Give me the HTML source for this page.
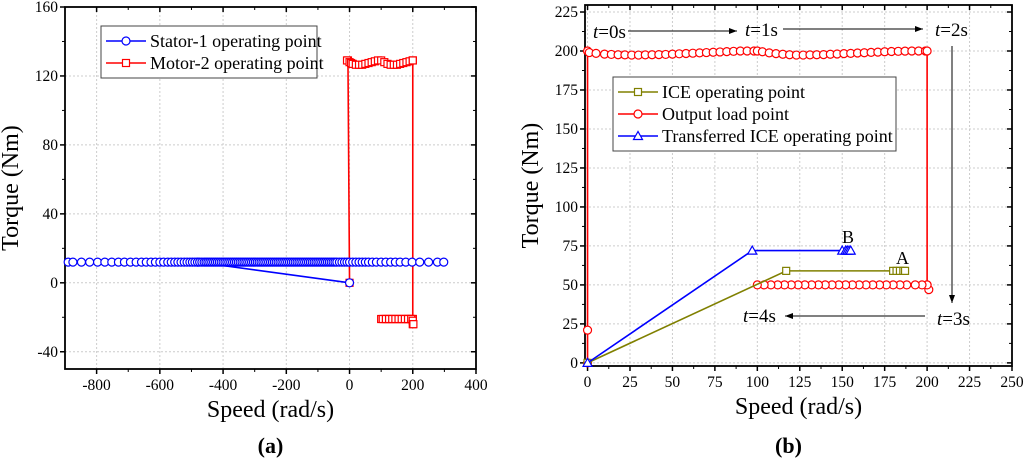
<!DOCTYPE html>
<html><head><meta charset="utf-8"><style>
body{margin:0;background:#fff;}
svg{display:block;font-family:"Liberation Serif",serif;}
</style></head><body>
<svg id="c" width="1024" height="460" viewBox="0 0 1024 460"></svg>
<script>
// ---- Chart (a) data ----
const statorX=[0,-480,-890,-875,-848,-822,-797,-774,-752,-731,-712,-693,-675,-658,-643,-628,-614,-600,-588,-575,-564,-553,-543,-533,-523,-514,-505,-497,-489,-481,-474,-467,-460,-454,-448,-442,-436,-430,-424,-418,-412,-406,-400,-394,-388,-382,-376,-370,-364,-358,-352,-346,-340,-334,-328,-322,-316,-310,-304,-298,-292,-286,-280,-274,-268,-262,-256,-250,-244,-238,-232,-226,-220,-214,-208,-202,-196,-190,-184,-178,-172,-166,-160,-154,-148,-142,-136,-130,-124,-118,-112,-106,-100,-94,-88,-82,-76,-70,-64,-58,-52,-46,-40,-32,-24,-16,-8,0,10,20,30,40,50,60,72,85,100,115,130,145,160,178,198,222,250,278,298];
const statorY=statorX.map((v,i)=>i===0?0:12);
const motorX=[0,-5,-8,0,5,10,20,30,40,50,60,70,80,90,100,110,120,130,140,150,160,170,180,190,200,200,200,200,195,190,185,180,170,160,150,140,130,120,110,100,105,115,125,135,145,155,165,175,185,195,200,200,202];
const motorY=[0,129,129,128,127.5,127,126.5,126.5,126.5,127,127.5,128,128.5,129,129,128,127,126.5,126.5,126.5,127,127.5,128,128.5,129,129,-21,-21,-21,-21,-21,-21,-21,-21,-21,-21,-21,-21,-21,-21,-21,-21,-21,-21,-21,-21,-21,-21,-21,-21,-22,-24,-24];
const aXTicks=[-800,-600,-400,-200,0,200,400];
const aYTicks=[-40,0,40,80,120,160];
// ---- Chart (b) data ----
const iceX=[0,117,180,182,184,186,187];
const iceY=[0,59,59,59,59,59,59];
const loadX=[0,0,0,1,5,10,14,18,22,26,30,34,38,42,46,50,54,58,62,66,70,74,78,82,86,90,94,98,100,103,107,111,115,119,123,127,131,135,139,143,147,151,155,159,163,167,171,175,179,183,187,191,195,199,200,200,201,200,197,193,188,184,180,176,172,168,164,160,156,152,148,144,140,136,132,128,124,120,116,112,108,104,100];
const loadY=[0,21,200,199,198.5,198,197.8,197.6,197.5,197.4,197.4,197.5,197.6,197.7,197.8,198,198.2,198.4,198.6,198.8,199,199.2,199.4,199.6,199.8,200,200,200,200,199.5,198.8,198.3,197.9,197.6,197.4,197.4,197.5,197.6,197.7,197.9,198.1,198.3,198.5,198.7,198.9,199.1,199.3,199.5,199.7,199.8,199.9,200,200,200,200,50,47,50,50,50,50,50,50,50,50,50,50,50,50,50,50,50,50,50,50,50,50,50,50,50,50,50,50];
const trX=[0,97,150,152,153,154,155];
const trY=[0,72,72,72,72,72,72];
const bXTicks=[0,25,50,75,100,125,150,175,200,225,250];
const bYTicks=[0,25,50,75,100,125,150,175,200,225];

const NS="http://www.w3.org/2000/svg";
const svg=document.getElementById('c');
function mk(tag,attrs,parent,name,inter){const e=document.createElementNS(NS,tag);for(const k in attrs)e.setAttribute(k,attrs[k]);


(parent||svg).appendChild(e);return e;}

function chart(o){
 const g=mk('g',{},svg,o.name,false);
 const sx=v=>o.x0+(v-o.xmin)/(o.xmax-o.xmin)*(o.x1-o.x0);
 const sy=v=>o.y1-(v-o.ymin)/(o.ymax-o.ymin)*(o.y1-o.y0);
 o.xt.forEach(v=>{const x=sx(v);mk('line',{x1:x,x2:x,y1:o.y0,y2:o.y1,stroke:'#ccc','stroke-dasharray':'2,2','stroke-width':1},g,'x-grid-line',false);});
 o.yt.forEach(v=>{const y=sy(v);mk('line',{x1:o.x0,x2:o.x1,y1:y,y2:y,stroke:'#ccc','stroke-dasharray':'2,2','stroke-width':1},g,'y-grid-line',false);});
 o.xt.forEach(v=>{const x=sx(v);
  mk('line',{x1:x,x2:x,y1:o.y1,y2:o.y1+5,stroke:'#000','stroke-width':1.5},g,'x-tick',false);
  mk('line',{x1:x,x2:x,y1:o.y0,y2:o.y0+5,stroke:'#000','stroke-width':1.5},g,'x-tick-top',false);
  const t=mk('text',{x:x,y:o.y1+21,'text-anchor':'middle','font-size':15.5},g,'x-tick-label',false);t.textContent=v;});
 o.yt.forEach(v=>{const y=sy(v);
  mk('line',{x1:o.x0-5,x2:o.x0,y1:y,y2:y,stroke:'#000','stroke-width':1.5},g,'y-tick',false);
  mk('line',{x1:o.x1-5,x2:o.x1,y1:y,y2:y,stroke:'#000','stroke-width':1.5},g,'y-tick-right',false);
  const t=mk('text',{x:o.x0-7,y:y+5,'text-anchor':'end','font-size':15.5},g,'y-tick-label',false);t.textContent=v;});
 for(let i=0;i<o.xt.length-1;i++){const x=sx((o.xt[i]+o.xt[i+1])/2);
  mk('line',{x1:x,x2:x,y1:o.y1,y2:o.y1+3,stroke:'#000'},g,'x-minor-tick',false);
  mk('line',{x1:x,x2:x,y1:o.y0,y2:o.y0+3,stroke:'#000'},g,'x-minor-tick-top',false);}
 for(let i=0;i<o.yt.length-1;i++){const y=sy((o.yt[i]+o.yt[i+1])/2);
  mk('line',{x1:o.x0-3,x2:o.x0,y1:y,y2:y,stroke:'#000'},g,'y-minor-tick',false);
  mk('line',{x1:o.x1-3,x2:o.x1,y1:y,y2:y,stroke:'#000'},g,'y-minor-tick-right',false);}
 mk('rect',{x:o.x0,y:o.y0,width:o.x1-o.x0,height:o.y1-o.y0,fill:'none',stroke:'#000','stroke-width':1.8},g,'plot-frame',false);
 o.series.forEach(s=>{
  const sg=mk('g',{},g,s.name,false);
  const pts=s.x.map((v,i)=>sx(v)+','+sy(s.y[i])).join(' ');
  mk('polyline',{points:pts,fill:'none',stroke:s.color,'stroke-width':1.6},sg,s.name+'-line',false);
  s.x.forEach((v,i)=>marker(sg,s.m,sx(v),sy(s.y[i]),s.color,s.name+'-marker'));
 });
 const xt=mk('text',{x:(o.x0+o.x1)/2,y:o.y1+48,'text-anchor':'middle','font-size':24},g,'x-axis-title',false);xt.textContent='Speed (rad/s)';
 const cy=(o.y0+o.y1)/2;
 const yt=mk('text',{x:o.ytx,y:cy,'text-anchor':'middle','font-size':24,transform:`rotate(-90 ${o.ytx} ${cy})`},g,'y-axis-title',false);yt.textContent='Torque (Nm)';
 const lb=mk('text',{x:(o.x0+o.x1)/2+(o.lbdx||0),y:453,'text-anchor':'middle','font-size':22,'font-weight':'bold'},g,'panel-label',false);
 lb.textContent=o.label;
 return {g,sx,sy};
}
function marker(p,m,x,y,c,name){
 if(m==='o')mk('circle',{cx:x,cy:y,r:4,fill:'#fff',stroke:c,'stroke-width':1.2},p,name,false);
 else if(m==='s')mk('rect',{x:x-3.5,y:y-3.5,width:7,height:7,fill:'#fff',stroke:c,'stroke-width':1.2},p,name,false);
 else mk('polygon',{points:`${x},${y-4.5} ${x-4.5},${y+3.5} ${x+4.5},${y+3.5}`,fill:'#fff',stroke:c,'stroke-width':1.2},p,name,false);
}
function legend(p,x,y,w,items,name){
 const lg=mk('g',{},p,name,false);
 mk('rect',{x:x,y:y,width:w,height:items.length*22+8,fill:'#fff',stroke:'#444','stroke-width':1},lg,'legend-box',false);
 items.forEach((it,i)=>{const yy=y+15+i*22;
  const e=mk('g',{},lg,'legend-entry',false);
  mk('line',{x1:x+5,x2:x+45,y1:yy,y2:yy,stroke:it.c,'stroke-width':1.5},e,'legend-line',false);
  marker(e,it.m,x+25,yy,it.c,'legend-marker');
  const t=mk('text',{x:x+49,y:yy+6,'font-size':18},e,'legend-label',false);t.textContent=it.t;});
}
const A=chart({name:'chart-a',x0:65,x1:476,y0:7,y1:369,xmin:-900,xmax:400,ymin:-50,ymax:160,xt:aXTicks,yt:aYTicks,ytx:18,label:'(a)',
 series:[{name:'motor-2-series',x:motorX,y:motorY,color:'#ff0000',m:'s'},{name:'stator-1-series',x:statorX,y:statorY,color:'#0000ff',m:'o'}]});
legend(A.g,101,26,216,[{t:'Stator-1 operating point',c:'#0000ff',m:'o'},{t:'Motor-2 operating point',c:'#ff0000',m:'s'}],'legend-a');
const B=chart({name:'chart-b',x0:585,x1:1012,y0:5,y1:366,xmin:-1.5,xmax:250,ymin:-2,ymax:229.5,xt:bXTicks,yt:bYTicks,ytx:538,label:'(b)',lbdx:-10,
 series:[{name:'output-load-series',x:loadX,y:loadY,color:'#ff0000',m:'o'},{name:'ice-series',x:iceX,y:iceY,color:'#808000',m:'s'},{name:'transferred-ice-series',x:trX,y:trY,color:'#0000ff',m:'t'}]});
legend(B.g,613,77,283,[{t:'ICE operating point',c:'#808000',m:'s'},{t:'Output load point',c:'#ff0000',m:'o'},{t:'Transferred ICE operating point',c:'#0000ff',m:'t'}],'legend-b');
const defs=mk('defs',{},svg,'defs',false);
const mkr=mk('marker',{id:'ah',markerWidth:8,markerHeight:6,refX:8,refY:3,orient:'auto'},defs,'arrowhead',false);
mk('path',{d:'M0,0 L8,3 L0,6 z',fill:'#000'},mkr,'arrowhead-shape',false);
const ann=mk('g',{},B.g,'annotations',false);
[['t=0s',593,38],['t=1s',745,36],['t=2s',935,36],['t=3s',937,325],['t=4s',743,322]].forEach(a=>{
 const t=mk('text',{x:a[1],y:a[2],'font-size':19},ann,'time-label',false);
 const i=document.createElementNS(NS,'tspan');i.setAttribute('font-style','italic');i.textContent='t';t.appendChild(i);
 t.appendChild(document.createTextNode(a[0].slice(1)));});
[[628,31,737,31],[783,29,923,29],[952,46,952,303],[925,316,785,316]].forEach(a=>mk('line',{x1:a[0],y1:a[1],x2:a[2],y2:a[3],stroke:'#000','stroke-width':1,'marker-end':'url(#ah)'},ann,'time-arrow',false));
const tb=mk('text',{x:842,y:243,'font-size':18},ann,'point-b-label',false);tb.textContent='B';
const ta=mk('text',{x:896,y:264,'font-size':18},ann,'point-a-label',false);ta.textContent='A';
</script>
</body></html>
